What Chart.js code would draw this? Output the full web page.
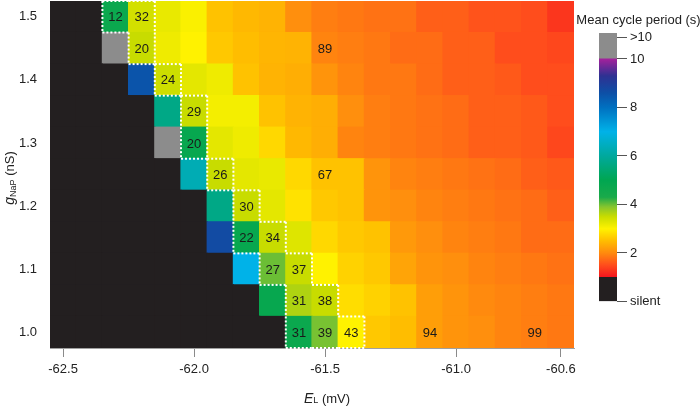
<!doctype html>
<html lang="en">
<head>
<meta charset="utf-8" />
<title>Mean cycle period</title>
<script src="https://cdn.jsdelivr.net/npm/chart.js@4"></script>
<style>
  html, body { margin: 0; padding: 0; background: #fff; }
  .wrap { position: relative; width: 700px; height: 407px; overflow: hidden; }
  #heat { position: absolute; left: 0; top: 0; }
  #cbar { position: absolute; left: 575px; top: 0; }
</style>
</head>
<body>
<div class="wrap">
  <canvas id="heat" width="700" height="407"></canvas>
  <canvas id="cbar" width="125" height="407"></canvas>
</div>
<script>
// leak reversal potential E_L (mV), one column each
const elValues = [-62.5, -62.4, -62.3, -62.2, -62.1, -62.0, -61.9, -61.8, -61.7, -61.6,
                  -61.5, -61.4, -61.3, -61.2, -61.1, -61.0, -60.9, -60.8, -60.7, -60.6];
// persistent sodium conductance g_NaP (nS), one row each
const gnapValues = [1.00, 1.05, 1.10, 1.15, 1.20, 1.25, 1.30, 1.35, 1.40, 1.45, 1.50];

// mean cycle period (s): 0 = silent, 11 = ">10"
const period100 = [0, 0, 0, 0, 0, 0, 0, 0, 0, 4.7, 3.95, 3.0, 2.6, 2.5, 2.2, 2.1, 2.05, 1.95, 1.9, 1.85];
const period105 = [0, 0, 0, 0, 0, 0, 0, 0, 4.8, 3.65, 3.5, 2.8, 2.7, 2.55, 2.2, 2.1, 2.0, 1.95, 1.9, 1.85];
const period110 = [0, 0, 0, 0, 0, 0, 0, 7.0, 4.0, 3.5, 3.0, 2.7, 2.6, 2.25, 2.1, 2.05, 1.95, 1.9, 1.85, 1.8];
const period115 = [0, 0, 0, 0, 0, 0, 8.7, 4.8, 3.5, 3.3, 2.75, 2.6, 2.55, 2.15, 2.05, 1.95, 1.9, 1.85, 1.75, 1.75];
const period120 = [0, 0, 0, 0, 0, 0, 5.7, 3.5, 3.25, 2.85, 2.6, 2.55, 2.1, 2.05, 1.95, 1.9, 1.85, 1.8, 1.75, 1.65];
const period125 = [0, 0, 0, 0, 0, 6.3, 3.5, 3.25, 3.2, 2.75, 2.55, 2.55, 2.1, 1.95, 1.9, 1.85, 1.8, 1.75, 1.65, 1.6];
const period130 = [0, 0, 0, 0, 11, 4.8, 3.25, 3.15, 2.75, 2.45, 2.35, 1.95, 1.9, 1.85, 1.8, 1.75, 1.65, 1.65, 1.6, 1.45];
const period135 = [0, 0, 0, 0, 5.7, 3.5, 3.1, 3.1, 2.55, 2.4, 2.35, 2.05, 1.9, 1.85, 1.8, 1.75, 1.65, 1.65, 1.6, 1.5];
const period140 = [0, 0, 0, 8.5, 3.45, 3.25, 3.15, 2.55, 2.4, 2.35, 2.1, 1.95, 1.85, 1.85, 1.75, 1.65, 1.65, 1.6, 1.5, 1.5];
const period145 = [0, 0, 11, 3.5, 3.15, 3.0, 2.6, 2.5, 2.42, 2.4, 1.95, 1.9, 1.85, 1.75, 1.75, 1.65, 1.65, 1.5, 1.5, 1.45];
const period150 = [0, 0, 4.7, 3.4, 3.2, 3.05, 2.55, 2.45, 2.4, 2.05, 1.9, 1.85, 1.8, 1.8, 1.65, 1.65, 1.55, 1.55, 1.5, 1.3];
const periodRows = [period100, period105, period110, period115, period120, period125,
                    period130, period135, period140, period145, period150];

// numbers written in cells: [E_L, g_NaP, text, outlined]
const cellNotes = [
  [-62.3, 1.50, '12', true], [-62.2, 1.50, '32', true],
  [-62.2, 1.45, '20', true], [-61.5, 1.45, '89', false],
  [-62.1, 1.40, '24', true],
  [-62.0, 1.35, '29', true],
  [-62.0, 1.30, '20', true],
  [-61.9, 1.25, '26', true], [-61.5, 1.25, '67', false],
  [-61.8, 1.20, '30', true],
  [-61.8, 1.15, '22', true], [-61.7, 1.15, '34', true],
  [-61.7, 1.10, '27', true], [-61.6, 1.10, '37', true],
  [-61.6, 1.05, '31', true], [-61.5, 1.05, '38', true],
  [-61.6, 1.00, '31', true], [-61.5, 1.00, '39', true], [-61.4, 1.00, '43', true],
  [-61.1, 1.00, '94', false], [-60.7, 1.00, '99', false],
];

const xTicks = [-62.5, -62.0, -61.5, -61.0, -60.6];
const yTicks = [1.0, 1.1, 1.2, 1.3, 1.4, 1.5];
const cbTicks = [0, 2, 4, 6, 8, 10, 10.9];
const cbTickLabels = ['silent', '2', '4', '6', '8', '10', '>10'];
const CB_TOP = 11.07;

// colour map, value (s) -> colour
const mapValues = [1.0, 1.5, 2.0, 2.5, 3.0, 3.5, 3.9, 4.3, 5.0, 6.0, 7.0, 8.0, 8.6, 9.3, 10.0];
const mapColors = ['#f5141e', '#ff4d1c', '#ff8a0e', '#ffbd00', '#fff200', '#c8dc00', '#86c52e',
                   '#1aaa4a', '#00a651', '#00a99d', '#00b2e8', '#0070c0', '#0d4fa6', '#2e3192', '#a3219c'];
const SILENT_COLOR = '#231f20';
const OVER_COLOR = '#8c8c8c';

Chart.defaults.font.family = '"Liberation Sans", Arial, sans-serif';
Chart.defaults.font.size = 13;
Chart.defaults.color = '#222';

function rgb(h) {
  const n = parseInt(h.slice(1), 16);
  return [n >> 16, (n >> 8) & 255, n & 255];
}

function colorFor(v) {
  if (v <= 0) return SILENT_COLOR;
  if (v > 10) return OVER_COLOR;
  if (v <= mapValues[0]) return mapColors[0];
  for (let k = 1; k < mapValues.length; k += 1) {
    if (v <= mapValues[k]) {
      const t = (v - mapValues[k - 1]) / (mapValues[k] - mapValues[k - 1]);
      const a = rgb(mapColors[k - 1]);
      const b = rgb(mapColors[k]);
      const c = a.map((ch, m) => Math.round(ch + (b[m] - ch) * t));
      return `rgb(${c[0]},${c[1]},${c[2]})`;
    }
  }
  return mapColors[mapColors.length - 1];
}

const halfX = 0.05;
const halfY = 0.025;

const heatDatasets = periodRows.map((row, j) => ({
  data: elValues.map((el) => ({ x: el, y: [gnapValues[j] - halfY, gnapValues[j] + halfY] })),
  backgroundColor: row.map(colorFor),
  borderWidth: 0,
  inflateAmount: 0.6,
  grouped: false,
  barPercentage: 1,
  categoryPercentage: 1,
}));

const cellMarks = {
  id: 'cellMarks',
  afterDatasetsDraw(chart) {
    const { ctx, scales: { x, y } } = chart;
    const key = (el, g) => `${Math.round(el * 10)}|${Math.round(g * 100)}`;
    const boxed = new Set(cellNotes.filter((n) => n[3]).map((n) => key(n[0], n[1])));

    ctx.save();
    ctx.strokeStyle = '#ffffff';
    ctx.lineWidth = 2;
    ctx.setLineDash([2, 2]);
    const seg = (x1, y1, x2, y2) => {
      ctx.beginPath();
      ctx.moveTo(x1, y1);
      ctx.lineTo(x2, y2);
      ctx.stroke();
    };
    for (const [el, g, , isBoxed] of cellNotes) {
      if (!isBoxed) continue;
      const l = x.getPixelForValue(el - halfX);
      const r = x.getPixelForValue(el + halfX);
      const t = y.getPixelForValue(g + halfY);
      const b = y.getPixelForValue(g - halfY);
      if (!boxed.has(key(el - 0.1, g))) seg(l, t, l, b);
      if (!boxed.has(key(el + 0.1, g))) seg(r, t, r, b);
      if (!boxed.has(key(el, g + 0.05))) seg(l, t, r, t);
      if (!boxed.has(key(el, g - 0.05))) seg(l, b, r, b);
    }
    ctx.restore();

    ctx.save();
    ctx.fillStyle = '#1a1a1a';
    ctx.font = '13px "Liberation Sans", Arial, sans-serif';
    ctx.textAlign = 'center';
    ctx.textBaseline = 'middle';
    for (const [el, g, text] of cellNotes) {
      ctx.fillText(text, x.getPixelForValue(el), y.getPixelForValue(g) + 1);
    }
    ctx.restore();
  },
  afterDraw(chart) {
    const { ctx } = chart;
    const big = '13px "Liberation Sans", Arial, sans-serif';
    const ital = 'italic 14px "Liberation Sans", Arial, sans-serif';
    const small = '9px "Liberation Sans", Arial, sans-serif';
    const drawRuns = (runs, cx, cy) => {
      let w = 0;
      for (const r of runs) { ctx.font = r[1]; w += ctx.measureText(r[0]).width; }
      let px = cx - w / 2;
      ctx.textAlign = 'left';
      ctx.textBaseline = 'alphabetic';
      for (const r of runs) {
        ctx.font = r[1];
        ctx.fillText(r[0], px, cy + r[2]);
        px += ctx.measureText(r[0]).width;
      }
    };
    ctx.save();
    ctx.fillStyle = '#222';
    drawRuns([['E', ital, 0], ['L', small, 0], [' (mV)', big, 0]], 327, 403);
    ctx.translate(14, 178);
    ctx.rotate(-Math.PI / 2);
    drawRuns([['g', ital, 0], ['NaP', small, 2], [' (nS)', big, 0]], 0, 0);
    ctx.restore();
  },
};

new Chart(document.getElementById('heat'), {
  type: 'bar',
  data: { datasets: heatDatasets },
  options: {
    responsive: false,
    animation: false,
    events: [],
    layout: { padding: { left: 0, top: 1, right: 126, bottom: 0 } },
    plugins: { legend: { display: false }, tooltip: { enabled: false } },
    scales: {
      x: {
        type: 'linear',
        min: -62.55,
        max: -60.55,
        offset: false,
        afterBuildTicks: (axis) => { axis.ticks = xTicks.map((v) => ({ value: v })); },
        afterFit: (axis) => {
          axis.height = 59;
          axis.paddingLeft = 0;
          axis.paddingRight = 0;
        },
        ticks: { autoSkip: false, maxRotation: 0, padding: 5, callback: (v) => Number(v).toFixed(1) },
        grid: { offset: false, drawOnChartArea: false, drawTicks: true, tickLength: 9, tickColor: '#8a8a8a' },
        border: { display: true, color: '#a0a0a0', width: 1 },
      },
      y: {
        type: 'linear',
        min: 0.975,
        max: 1.525,
        afterBuildTicks: (axis) => { axis.ticks = yTicks.map((v) => ({ value: v })); },
        afterFit: (axis) => {
          axis.width = 50;
          axis.paddingTop = 0;
          axis.paddingBottom = 0;
        },
        ticks: { padding: 13, callback: (v) => Number(v).toFixed(1) },
        grid: { display: false, drawTicks: false },
        border: { display: false },
      },
    },
  },
  plugins: [cellMarks],
});

const cbTitle = {
  id: 'cbTitle',
  afterDraw(chart) {
    const { ctx } = chart;
    ctx.save();
    ctx.fillStyle = '#222';
    ctx.font = '13px "Liberation Sans", Arial, sans-serif';
    ctx.textAlign = 'center';
    ctx.textBaseline = 'middle';
    ctx.fillText('Mean cycle period (s)', 63.5, 20);
    ctx.restore();
  },
};

function cbGradient(context) {
  const chart = context.chart;
  if (!chart.chartArea) return mapColors[0];
  const s = chart.scales.y;
  const g = chart.ctx.createLinearGradient(0, s.getPixelForValue(1), 0, s.getPixelForValue(10));
  mapValues.forEach((v, k) => g.addColorStop((v - 1) / 9, mapColors[k]));
  return g;
}

new Chart(document.getElementById('cbar'), {
  type: 'bar',
  data: {
    labels: ['period'],
    datasets: [
      { data: [[0, 1]], backgroundColor: SILENT_COLOR },
      { data: [[1, 10]], backgroundColor: cbGradient },
      { data: [[10, CB_TOP]], backgroundColor: OVER_COLOR },
    ].map((d) => ({ ...d, borderWidth: 0, grouped: false, barPercentage: 1, categoryPercentage: 1 })),
  },
  options: {
    responsive: false,
    animation: false,
    events: [],
    layout: { padding: { left: 24, top: 33, right: 0, bottom: 105.5 } },
    plugins: { legend: { display: false }, tooltip: { enabled: false } },
    scales: {
      x: { display: false },
      y: {
        position: 'right',
        min: 0,
        max: CB_TOP,
        afterBuildTicks: (axis) => { axis.ticks = cbTicks.map((v) => ({ value: v })); },
        afterFit: (axis) => { axis.width = 83; },
        ticks: { padding: 3, autoSkip: false, callback: (v, i) => cbTickLabels[i] },
        grid: { drawOnChartArea: false, drawTicks: true, tickLength: 10, tickColor: '#555' },
        border: { display: false },
      },
    },
  },
  plugins: [cbTitle],
});
</script>
</body>
</html>
